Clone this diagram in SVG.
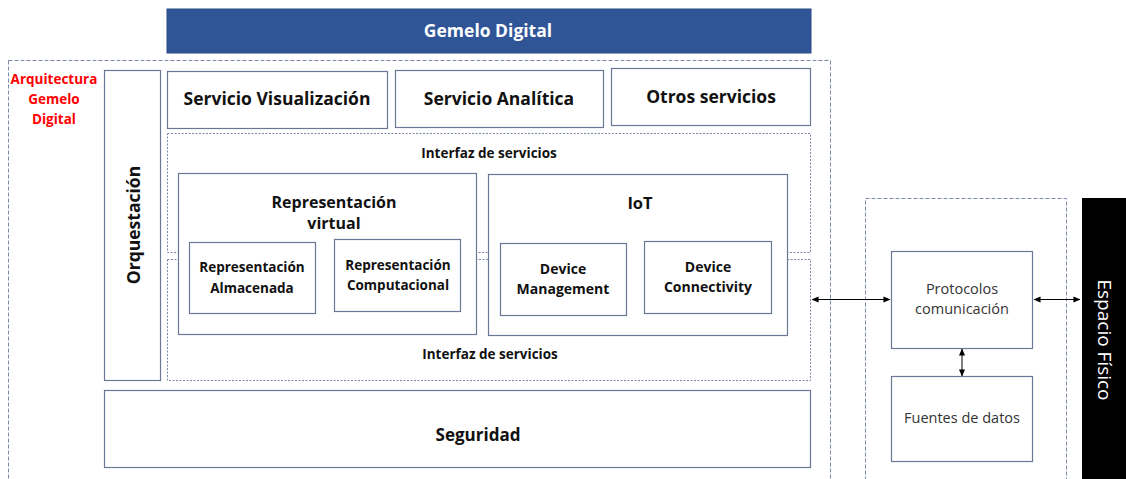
<svg xmlns="http://www.w3.org/2000/svg" width="1126" height="479" viewBox="0 0 1126 479">
<defs>
<style>
.box{fill:#fff;stroke:#6b7895;stroke-width:1.2}
.dash{fill:none;stroke:#7d8aa6;stroke-width:1;stroke-dasharray:4 2}
.dash2{fill:none;stroke:#7d8aa6;stroke-width:1;stroke-dasharray:2 1.5}
.t{font-family:"Open Sans",Lato,"Liberation Sans",sans-serif;font-weight:bold;fill:#111;text-anchor:middle}
.n{font-family:"Open Sans",Lato,"Liberation Sans",sans-serif;fill:#333;text-anchor:middle;font-size:14.5px}
.conn{stroke:#000;stroke-width:1;fill:none;marker-start:url(#ah);marker-end:url(#ah)}
</style>
<marker id="ah" viewBox="0 0 8 8" refX="7.5" refY="4" markerWidth="7" markerHeight="7" orient="auto-start-reverse" markerUnits="userSpaceOnUse">
<path d="M0,0.5 L8,4 L0,7.5 z" fill="#000"/>
</marker>
</defs>
<rect width="1126" height="479" fill="#fff"/>

<g id="arquitectura">
<rect class="dash" x="8.5" y="60.5" width="822" height="440"/>
<text class="t" font-size="13.5" style="fill:#f00"><tspan x="54" y="84">Arquitectura</tspan><tspan x="54" y="104">Gemelo</tspan><tspan x="54" y="124">Digital</tspan></text>
</g>

<g id="gemelo-digital">
<rect x="167" y="9" width="644" height="44" fill="#2f5597" stroke="#2a4a85"/>
<text class="t" x="488" y="37" font-size="17.5" style="fill:#fff">Gemelo Digital</text>
</g>

<g id="orquestacion">
<rect class="box" x="104.5" y="70.5" width="56" height="310"/>
<text class="t" font-size="17.5" transform="translate(139.5,225) rotate(-90)">Orquestación</text>
</g>

<g id="servicio-visualizacion">
<rect class="box" x="167.5" y="71.5" width="220" height="57"/>
<text class="t" x="277" y="105" font-size="17.5">Servicio Visualización</text>
</g>

<g id="servicio-analitica">
<rect class="box" x="395.5" y="70.5" width="208" height="57"/>
<text class="t" x="499" y="105" font-size="17.5">Servicio Analítica</text>
</g>

<g id="otros-servicios">
<rect class="box" x="611.5" y="68.5" width="199" height="57"/>
<text class="t" x="711" y="103" font-size="17.5">Otros servicios</text>
</g>

<g id="interfaz-superior">
<rect class="dash2" x="167.5" y="133.5" width="643" height="119"/>
<text class="t" x="489" y="158" font-size="13.5">Interfaz de servicios</text>
</g>

<g id="interfaz-inferior">
<rect class="dash2" x="167.5" y="259.5" width="643" height="121"/>
<text class="t" x="490" y="359" font-size="13.5">Interfaz de servicios</text>
</g>

<g id="representacion-virtual">
<rect class="box" x="178.5" y="173.5" width="298" height="161"/>
<text class="t" font-size="16"><tspan x="334" y="208">Representación</tspan><tspan x="334" y="229">virtual</tspan></text>
</g>

<g id="representacion-almacenada">
<rect class="box" x="189.5" y="242.5" width="126" height="71"/>
<text class="t" font-size="13.5"><tspan x="252" y="272">Representación</tspan><tspan x="252" y="293">Almacenada</tspan></text>
</g>

<g id="representacion-computacional">
<rect class="box" x="334.5" y="239.5" width="126" height="72"/>
<text class="t" font-size="13.5"><tspan x="398" y="270">Representación</tspan><tspan x="398" y="290">Computacional</tspan></text>
</g>

<g id="iot">
<rect class="box" x="488.5" y="174.5" width="299" height="161"/>
<text class="t" x="640" y="209" font-size="16.5">IoT</text>
</g>

<g id="device-management">
<rect class="box" x="500.5" y="243.5" width="126" height="72"/>
<text class="t" font-size="14"><tspan x="563" y="274">Device</tspan><tspan x="563" y="294">Management</tspan></text>
</g>

<g id="device-connectivity">
<rect class="box" x="644.5" y="241.5" width="127" height="72"/>
<text class="t" font-size="14"><tspan x="708" y="272">Device</tspan><tspan x="708" y="292">Connectivity</tspan></text>
</g>

<g id="seguridad">
<rect class="box" x="104.5" y="390.5" width="706" height="77"/>
<text class="t" x="478" y="441" font-size="17">Seguridad</text>
</g>

<g id="zona-comunicacion">
<rect class="dash" x="865.5" y="198.5" width="201" height="300"/>
</g>

<g id="protocolos-comunicacion">
<rect class="box" x="891.5" y="251.5" width="141" height="97"/>
<text class="n"><tspan x="962" y="294">Protocolos</tspan><tspan x="962" y="314">comunicación</tspan></text>
</g>

<g id="fuentes-datos">
<rect class="box" x="891.5" y="376.5" width="141" height="85"/>
<text class="n" x="962" y="423">Fuentes de datos</text>
</g>

<g id="espacio-fisico">
<rect x="1082" y="198" width="44" height="281" fill="#000"/>
<text font-family="'Open Sans',Lato,'Liberation Sans',sans-serif" font-size="19" fill="#fff" text-anchor="middle" transform="translate(1098,340) rotate(90)">Espacio Físico</text>
</g>

<g id="connectors">
<line class="conn" x1="812" y1="299.5" x2="890" y2="299.5"/>
<line class="conn" x1="1034" y1="299.5" x2="1080" y2="299.5"/>
<line class="conn" x1="962" y1="349" x2="962" y2="376"/>
</g>
</svg>
